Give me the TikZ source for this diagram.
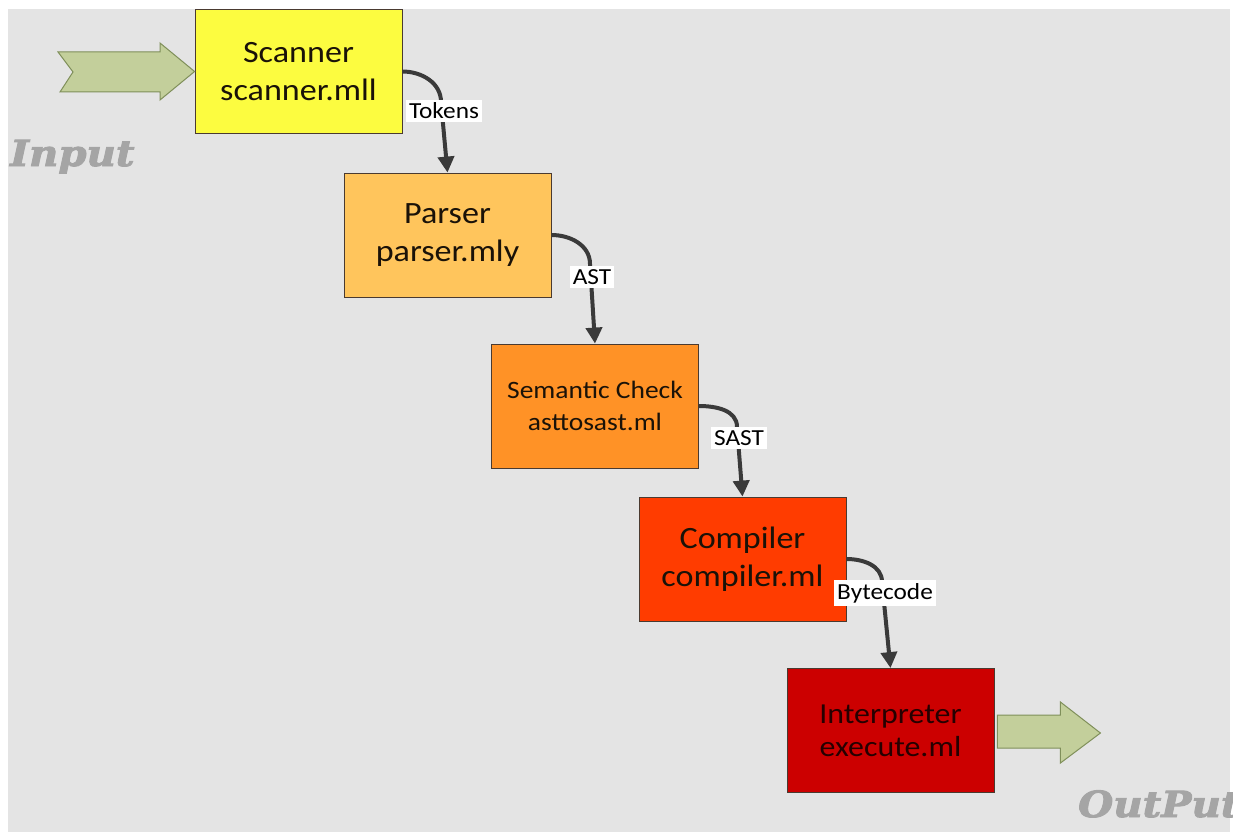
\documentclass[tikz,border=0pt]{standalone}
\usepackage{fontspec}
\setmainfont{Carlito}[FakeStretch=1.1]
\newfontfamily\decofont{DejaVu Serif}[UprightFont=* Bold Italic, FakeBold=2.5, FakeStretch=1.12]
\usetikzlibrary{arrows.meta}
\definecolor{bg}{HTML}{E4E4E4}
\definecolor{boxline}{HTML}{4A3A30}
\definecolor{boxtext}{HTML}{1A1208}
\definecolor{connc}{HTML}{3A3A3A}
\definecolor{arrowfill}{HTML}{C3CF9B}
\definecolor{arrowline}{HTML}{7F8F5A}
\definecolor{decogray}{HTML}{A5A5A5}
\definecolor{cscan}{HTML}{FCFC40}
\definecolor{cparse}{HTML}{FFC55C}
\definecolor{csem}{HTML}{FF9226}
\definecolor{ccomp}{HTML}{FF3C00}
\definecolor{cinterp}{HTML}{CC0000}
\begin{document}
\begin{tikzpicture}[x=1pt,y=-1pt,
  box/.style={draw=boxline, line width=0.8pt, minimum width=207pt, minimum height=124pt,
    inner sep=0pt, align=center, text=boxtext},
  big/.style={font=\fontsize{31}{38}\selectfont},
  mid/.style={font=\fontsize{25}{32}\selectfont},
  conn/.style={draw=connc, line width=4pt, -{Triangle[width=16pt,length=16pt]}},
  lab/.style={fill=white, inner xsep=3pt, inner ysep=3pt, text=black,
    font=\fontsize{23}{27}\selectfont},
  block/.style={fill=arrowfill, draw=arrowline, line width=1pt, line join=miter},
  deco/.style={text=decogray, inner sep=0pt, font=\decofont\fontsize{36}{40}\selectfont}]
\useasboundingbox (0,0) rectangle (1233,832);
\fill[bg] (8,9) rectangle (1230,832);

% boxes
\node[box, big, fill=cscan] (scan) at (298.5,71.5) {Scanner\\scanner.mll};
\node[box, big, fill=cparse] (parse) at (447.5,235) {Parser\\parser.mly};
\node[box, mid, fill=csem] (sem) at (595,406) {Semantic Check\\asttosast.ml};
\node[box, big, fill=ccomp] (comp) at (742.5,559) {Compiler\\compiler.ml};
\node[box, font=\fontsize{29}{33}\selectfont, fill=cinterp, text=black!85!red] (interp) at (890.5,730.5) {Interpreter\\execute.ml};

% bend points
\coordinate (k1) at (441,102);
\coordinate (k2) at (590,264);
\coordinate (k3) at (737,427);
\coordinate (k4) at (882,582);

% connectors
\draw[conn] (scan.east) to[out=0,in=90] (k1) -- (parse.north);
\draw[conn] (parse.east) to[out=0,in=90] (k2) -- (sem.north);
\draw[conn] (sem.east) to[out=0,in=90] (k3) -- (comp.north);
\draw[conn] (comp.east) to[out=0,in=90] (k4) -- (interp.north);

% labels
\node[lab] (ltok) at (444,111) {Tokens};
\node[lab] (last) at (592,277) {AST};
\node[lab] (lsast) at (739,438) {SAST};
\node[lab] (lbyte) at (885,593) {Bytecode};

% block arrows
\draw[block] (58,52) -- (160,52) -- (160,43) -- (scan.west) -- (160,100) -- (160,92)
  -- (60,92) -- (73,72) -- cycle;
\draw[block] ([shift={(3,-15.5)}]interp.east) -- ([shift={(66,-15.5)}]interp.east)
  -- ([shift={(66,-28.5)}]interp.east) -- ([shift={(106,2.5)}]interp.east)
  -- ([shift={(66,32.5)}]interp.east) -- ([shift={(66,17.5)}]interp.east)
  -- ([shift={(3,17.5)}]interp.east) -- cycle;

% side texts
\node[deco, anchor=base west] (inp) at (10,166) {Input};
\node[deco, anchor=base west] (outp) at (1078,817) {OutPut};
\end{tikzpicture}
\end{document}
